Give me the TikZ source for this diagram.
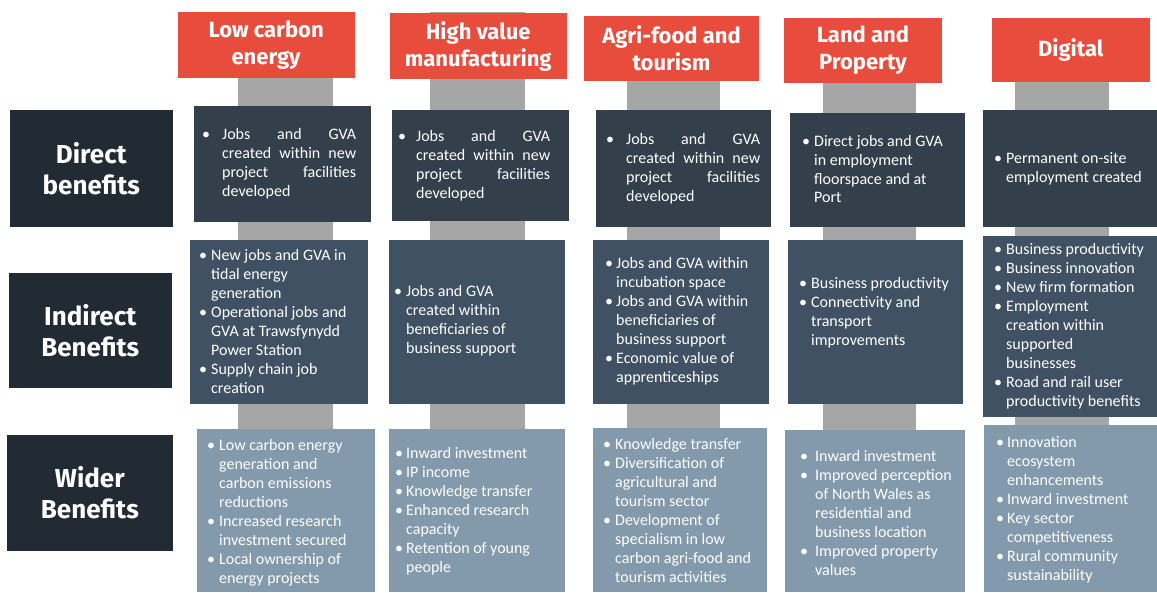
\documentclass[tikz,border=0pt]{standalone}
\usepackage{fontspec}
\setmainfont{Carlito}
\newfontfamily\headfont{Fira Sans}
\definecolor{hred}{HTML}{E84C3D}
\definecolor{cgray}{HTML}{A6A6A6}
\definecolor{lab}{HTML}{222A33}
\definecolor{dir}{HTML}{333F4B}
\definecolor{ind}{HTML}{3F5162}
\definecolor{wid}{HTML}{8399AC}
\newcommand{\bu}[2]{\makebox[#1pt][l]{•}#2}
\newcommand{\co}[2]{\hspace*{#1pt}#2}
\newcommand{\js}[1]{\makebox[134pt][s]{#1}}
\newcommand{\rbox}[6]{\node[#6, anchor=north west, inner sep=0, outer sep=0, minimum width={(#4-#2)*1pt}, minimum height={(#5-#3)*1pt}] (#1) at (#2,#3) {};}
\tikzset{
  hdr/.style={fill=hred, draw=none},
  conn/.style={fill=cgray, draw=none},
  labbox/.style={fill=lab, draw=none},
  dirbox/.style={fill=dir, draw=none},
  indbox/.style={fill=ind, draw=none},
  widbox/.style={fill=wid, draw=none},
  htext/.style={text=white, align=center, inner sep=0, font={\headfont\bfseries\fontsize{22}{27}\selectfont}},
  ltext/.style={text=white, align=center, inner sep=0, font={\headfont\bfseries\fontsize{26}{31}\selectfont}},
  btext/.style={text=white, align=left, inner sep=0, anchor=west, font={\fontsize{16}{19}\selectfont}},
}
\begin{document}
\begin{tikzpicture}[x=1pt,y=-1pt]
\useasboundingbox (0,0) rectangle (1157,592);
% gray connector bars
\rbox{g1}{238.4}{12.3}{333.3}{592}{conn}
\rbox{g2}{430}{12.3}{525}{592}{conn}
\rbox{g3}{627}{16}{720}{592}{conn}
\rbox{g4}{823}{18}{915.6}{592}{conn}
\rbox{g5}{1015}{18}{1109}{592}{conn}
% headers
\rbox{h1}{177.5}{12.3}{354.7}{77.7}{hdr}
\rbox{h2}{389.6}{13.3}{566.8}{79}{hdr}
\rbox{h3}{584}{16}{759}{80.7}{hdr}
\rbox{h4}{784}{18}{942}{82.7}{hdr}
\rbox{h5}{992}{18}{1149.5}{81.7}{hdr}
\node[htext] (h1t) at (h1.center) {Low carbon\\energy};
\node[htext] (h2t) at (h2.center) {High value\\manufacturing};
\node[htext] (h3t) at (h3.center) {Agri-food and\\tourism};
\node[htext] (h4t) at (h4.center) {Land and\\Property};
\node[htext] (h5t) at (h5.center) {Digital};
% row labels
\rbox{l1}{10}{110}{172.7}{226.7}{labbox}
\rbox{l2}{9}{272.7}{171.5}{387.7}{labbox}
\rbox{l3}{7}{435}{172.7}{551}{labbox}
\node[ltext] (l1t) at (l1.center) {Direct\\benefits};
\node[ltext] (l2t) at (l2.center) {Indirect\\Benefits};
\node[ltext] (l3t) at (l3.center) {Wider\\Benefits};
% direct boxes
\rbox{d1}{193.7}{106}{370.9}{221.7}{dirbox}
\rbox{d2}{391.9}{110}{569}{220.7}{dirbox}
\rbox{d3}{595.8}{110}{771}{226.7}{dirbox}
\rbox{d4}{790}{113}{965}{226.7}{dirbox}
\rbox{d5}{983}{110}{1157}{226.7}{dirbox}
% indirect boxes
\rbox{i1}{190}{240}{367.5}{403.7}{indbox}
\rbox{i2}{388.5}{240}{565.3}{403.7}{indbox}
\rbox{i3}{592.8}{240}{769.2}{403.7}{indbox}
\rbox{i4}{787.5}{240}{963}{403.7}{indbox}
\rbox{i5}{983}{236}{1157}{416.7}{indbox}
% wider boxes
\rbox{w1}{196.7}{429}{375.4}{592}{widbox}
\rbox{w2}{388.5}{429}{565.3}{592}{widbox}
\rbox{w3}{592.5}{428.3}{767.3}{592}{widbox}
\rbox{w4}{785}{430}{965}{592}{widbox}
\rbox{w5}{983.7}{425}{1157}{592}{widbox}
% direct texts
\node[btext] (d1t) at (202,164) {\bu{20}{\js{Jobs and GVA}}\\\co{20}{\js{created within new}}\\\co{20}{\js{project facilities}}\\\co{20}{developed}};
\node[btext] (d2t) at (398,165.5) {\bu{18}{\js{Jobs and GVA}}\\\co{18}{\js{created within new}}\\\co{18}{\js{project facilities}}\\\co{18}{developed}};
\node[btext] (d3t) at (606,168.5) {\bu{20}{\js{Jobs and GVA}}\\\co{20}{\js{created within new}}\\\co{20}{\js{project facilities}}\\\co{20}{developed}};
\node[btext] (d4t) at (802,169) {\bu{12}{Direct jobs and GVA}\\\co{12}{in employment}\\\co{12}{floorspace and at}\\\co{12}{Port}};
\node[btext] (d5t) at (994,169) {\bu{12}{Permanent on-site}\\\co{12}{employment created}};
% indirect texts
\node[btext] (i1t) at (199,321.5) {\bu{12}{New jobs and GVA in}\\\co{12}{tidal energy}\\\co{12}{generation}\\\bu{12}{Operational jobs and}\\\co{12}{GVA at Trawsfynydd}\\\co{12}{Power Station}\\\bu{12}{Supply chain job}\\\co{12}{creation}};
\node[btext] (i2t) at (394,321) {\bu{12}{Jobs and GVA}\\\co{12}{created within}\\\co{12}{beneficiaries of}\\\co{12}{business support}};
\node[btext] (i3t) at (605,321) {\bu{11}{Jobs and GVA within}\\\co{11}{incubation space}\\\bu{11}{Jobs and GVA within}\\\co{11}{beneficiaries of}\\\co{11}{business support}\\\bu{11}{Economic value of}\\\co{11}{apprenticeships}};
\node[btext] (i4t) at (799,313) {\bu{12}{Business productivity}\\\bu{12}{Connectivity and}\\\co{12}{transport}\\\co{12}{improvements}};
\node[btext] (i5t) at (994,326) {\bu{12}{Business productivity}\\\bu{12}{Business innovation}\\\bu{12}{New firm formation}\\\bu{12}{Employment}\\\co{12}{creation within}\\\co{12}{supported}\\\co{12}{businesses}\\\bu{12}{Road and rail user}\\\co{12}{productivity benefits}};
% wider texts
\node[btext] (w1t) at (207,512.5) {\bu{12}{Low carbon energy}\\\co{12}{generation and}\\\co{12}{carbon emissions}\\\co{12}{reductions}\\\bu{12}{Increased research}\\\co{12}{investment secured}\\\bu{12}{Local ownership of}\\\co{12}{energy projects}};
\node[btext] (w2t) at (395,511.5) {\bu{11}{Inward investment}\\\bu{11}{IP income}\\\bu{11}{Knowledge transfer}\\\bu{11}{Enhanced research}\\\co{11}{capacity}\\\bu{11}{Retention of young}\\\co{11}{people}};
\node[btext] (w3t) at (603,510.5) {\bu{12}{Knowledge transfer}\\\bu{12}{Diversification of}\\\co{12}{agricultural and}\\\co{12}{tourism sector}\\\bu{12}{Development of}\\\co{12}{specialism in low}\\\co{12}{carbon agri-food and}\\\co{12}{tourism activities}};
\node[btext] (w4t) at (800,512.5) {\bu{15}{Inward investment}\\\bu{15}{Improved perception}\\\co{15}{of North Wales as}\\\co{15}{residential and}\\\co{15}{business location}\\\bu{15}{Improved property}\\\co{15}{values}};
\node[btext] (w5t) at (996,509.5) {\bu{11}{Innovation}\\\co{11}{ecosystem}\\\co{11}{enhancements}\\\bu{11}{Inward investment}\\\bu{11}{Key sector}\\\co{11}{competitiveness}\\\bu{11}{Rural community}\\\co{11}{sustainability}};
\end{tikzpicture}
\end{document}
